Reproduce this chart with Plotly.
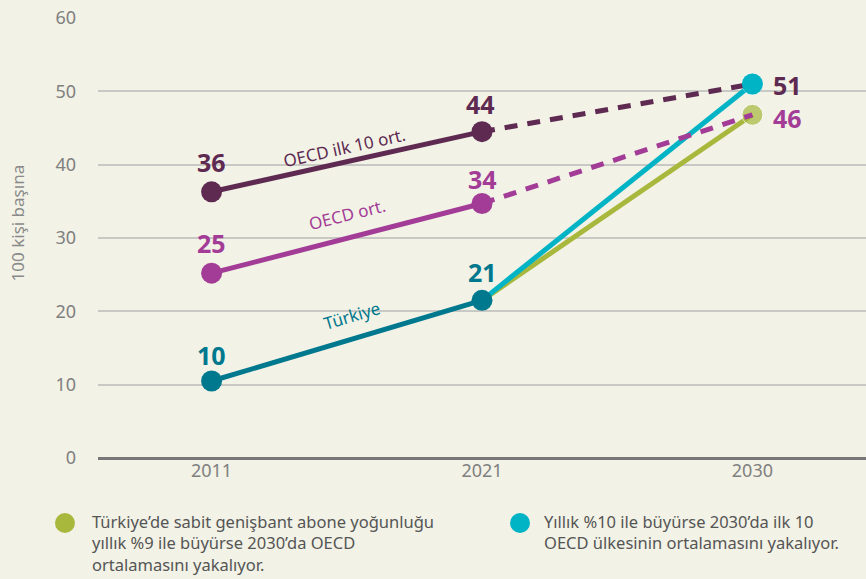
import plotly.graph_objects as go

years = ["2011", "2021", "2030"]
xpos = [0, 1, 2]
oecd_top10 = [36.3, 44.5, 51.0]
oecd_avg = [25.2, 34.7, 46.8]
turkiye = [10.5, 21.5]
scen_9 = [21.5, 46.8]    # green scenario 2021 -> 2030
scen_10 = [21.5, 51.0]   # cyan scenario 2021 -> 2030
lbl_top10 = ["36", "44", "51"]
lbl_avg = ["25", "34", "46"]
lbl_tr = ["10", "21"]
yticks = [0, 10, 20, 30, 40, 50, 60]
legend_green = ["Türkiye’de sabit genişbant abone yoğunluğu",
                "yıllık %9 ile büyürse 2030’da OECD",
                "ortalamasını yakalıyor."]
legend_cyan = ["Yıllık %10 ile büyürse 2030’da ilk 10",
               "OECD ülkesinin ortalamasını yakalıyor."]

C_TOP = "#5e2a52"
C_AVG = "#a23c96"
C_TR = "#00788e"
C_CY = "#00b4c6"
C_GR = "#a7b83c"
BG = "#f2f2e6"
FONT = "Noto Sans"

fig = go.Figure()

fig.add_trace(go.Scatter(x=xpos[1:], y=scen_9, mode="lines+markers",
                         line=dict(color=C_GR, width=5),
                         marker=dict(size=[0, 21], color=C_GR), hoverinfo="skip"))
fig.add_trace(go.Scatter(x=xpos[1:], y=scen_10, mode="lines+markers",
                         line=dict(color=C_CY, width=5),
                         marker=dict(size=[0, 21], color=C_CY), hoverinfo="skip"))

fig.add_trace(go.Scatter(x=xpos[1:], y=oecd_top10[1:], mode="lines",
                         line=dict(color=C_TOP, width=5, dash="13px,10px"), hoverinfo="skip"))
fig.add_trace(go.Scatter(x=xpos[1:], y=oecd_avg[1:], mode="lines",
                         line=dict(color=C_AVG, width=5, dash="13px,10px"), hoverinfo="skip"))

fig.add_trace(go.Scatter(x=xpos[:2], y=oecd_top10[:2], mode="lines+markers",
                         line=dict(color=C_TOP, width=5),
                         marker=dict(size=21, color=C_TOP), hoverinfo="skip"))
fig.add_trace(go.Scatter(x=xpos[:2], y=oecd_avg[:2], mode="lines+markers",
                         line=dict(color=C_AVG, width=5),
                         marker=dict(size=21, color=C_AVG), hoverinfo="skip"))
fig.add_trace(go.Scatter(x=xpos[:2], y=turkiye, mode="lines+markers",
                         line=dict(color=C_TR, width=5),
                         marker=dict(size=21, color=C_TR), hoverinfo="skip"))
fig.add_trace(go.Scatter(x=[xpos[2]], y=[scen_10[1]], mode="markers",
                         marker=dict(size=21, color=C_CY), hoverinfo="skip"))

ann = []
def num(x, y, t, c, xanchor="center", yshift=28, xshift=0):
    ann.append(dict(x=x, y=y, text="<b>%s</b>" % t, showarrow=False,
                    font=dict(family=FONT, size=25, color=c),
                    xanchor=xanchor, yanchor="middle", yshift=yshift, xshift=xshift))

num(xpos[0], oecd_top10[0], lbl_top10[0], C_TOP, yshift=30)
num(xpos[1], oecd_top10[1], lbl_top10[1], C_TOP, yshift=28, xshift=-2)
num(xpos[0], oecd_avg[0], lbl_avg[0], C_AVG, yshift=30)
num(xpos[1], oecd_avg[1], lbl_avg[1], C_AVG, yshift=25)
num(xpos[0], turkiye[0], lbl_tr[0], C_TR, yshift=26)
num(xpos[1], turkiye[1], lbl_tr[1], C_TR, yshift=28)
num(xpos[2], oecd_top10[2], lbl_top10[2], C_TOP, xanchor="left", yshift=-1, xshift=19)
num(xpos[2], oecd_avg[2], lbl_avg[2], C_AVG, xanchor="left", yshift=-3, xshift=19)

def seg(x, y, t, c, ang):
    ann.append(dict(x=x, y=y, text=t, showarrow=False, textangle=ang,
                    font=dict(family=FONT, size=17, color=c),
                    xanchor="center", yanchor="middle"))
seg(0.49, 42.4, "OECD ilk 10 ort.", C_TOP, -12.5)
seg(0.50, 33.2, "OECD ort.", C_AVG, -14)
seg(0.52, 19.4, "Türkiye", C_TR, -16.5)

ann.append(dict(xref="paper", yref="paper", x=-0.105, y=0.534, text="100 kişi başına",
                showarrow=False, textangle=-90,
                font=dict(family=FONT, size=17, color="#8a8a8a"),
                xanchor="center", yanchor="middle"))

leg_font = dict(family=FONT, size=16.5, color="#555555")
ann.append(dict(xref="paper", yref="paper", x=-0.0104, y=-0.193, xanchor="left",
                yanchor="middle", align="left", showarrow=False, font=leg_font,
                text="<br>".join(legend_green)))
ann.append(dict(xref="paper", yref="paper", x=0.578, y=-0.1693, xanchor="left",
                yanchor="middle", align="left", showarrow=False, font=leg_font,
                text="<br>".join(legend_cyan)))

shapes = [
    dict(type="circle", xref="paper", yref="paper", x0=-0.056, x1=-0.030, y0=-0.1705, y1=-0.125,
         fillcolor=C_GR, line=dict(width=0)),
    dict(type="circle", xref="paper", yref="paper", x0=0.5365, x1=0.5625, y0=-0.1705, y1=-0.125,
         fillcolor=C_CY, line=dict(width=0)),
]

fig.update_layout(
    width=866, height=579,
    margin=dict(l=98, r=0, t=18, b=121),
    paper_bgcolor=BG, plot_bgcolor=BG,
    showlegend=False,
    annotations=ann, shapes=shapes,
    font=dict(family=FONT),
    xaxis=dict(range=[-0.42, 2.42], tickvals=xpos, ticktext=years, showgrid=False,
               zeroline=False, showline=False, ticks="",
               tickfont=dict(family=FONT, size=18, color="#808080"), fixedrange=True),
    yaxis=dict(range=[0, 60], tickvals=yticks, showgrid=True, gridcolor="#c8c8c4", gridwidth=1.5,
               zeroline=True, zerolinecolor="#777777", zerolinewidth=3, showline=False,
               ticks="", ticklabelstandoff=21,
               tickfont=dict(family=FONT, size=18, color="#808080"), fixedrange=True),
)

fig.write_html("out.html", config={"displayModeBar": False},
               post_script="document.body.style.margin='0';document.body.style.overflow='hidden';document.body.style.background='%s';" % BG)
